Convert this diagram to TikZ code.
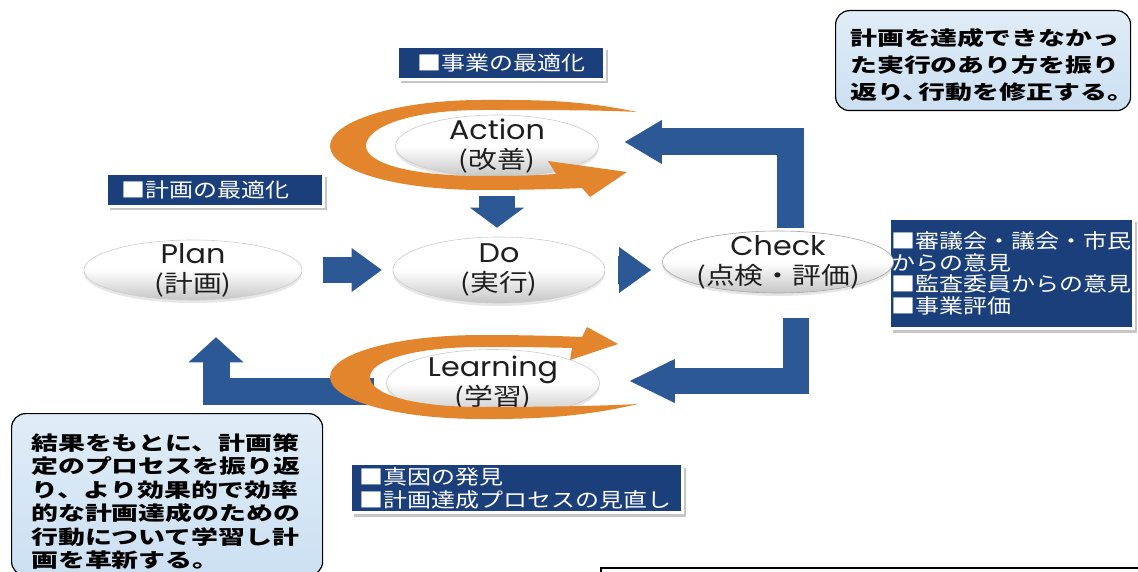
\documentclass[tikz,border=0pt]{standalone}
\usepackage{fontspec}
\setmainfont{Poppins}
\newfontfamily\latinfont[FakeStretch=1.12]{Poppins}
\newfontfamily\jpfont[FakeStretch=1.2]{Noto Sans CJK JP}
\newfontfamily\jpbold[FakeStretch=1.38]{Noto Sans CJK JP}
\newcommand\jpline{\jpfont\fontsize{24}{29}\selectfont}
\usetikzlibrary{shapes.geometric, arrows.meta, shadows}

\definecolor{tagnavy}{RGB}{27,63,122}
\definecolor{flowblue}{RGB}{44,88,150}
\definecolor{swirlorange}{RGB}{227,133,44}
\definecolor{calloutblue}{RGB}{204,224,242}
\definecolor{inkgray}{RGB}{30,30,30}

\begin{document}
\begin{tikzpicture}[x=1pt, y=-1pt,
  phase/.style={ellipse, minimum width=#1, minimum height=62pt,
    inner xsep=0pt, inner ysep=-14pt, draw=gray!40, line width=0.6pt,
    top color=white, bottom color=gray!45, middle color=white,
    drop shadow={opacity=0.2, shadow xshift=0pt, shadow yshift=-3pt},
    text=inkgray, align=center, font=\latinfont\fontsize{27}{29}\selectfont},
  tagbox/.style={fill=tagnavy, draw=white, line width=3pt, text=white,
    minimum height=33pt, align=left, font=\jpfont\fontsize{20}{22}\selectfont,
    drop shadow={shadow xshift=3pt, shadow yshift=-4pt, fill=gray!45, opacity=1}},
  callout/.style={draw=black, line width=1.2pt, rounded corners=14pt,
    top color=calloutblue!60, bottom color=calloutblue},
  calltext/.style={inner sep=0pt, align=left, text=black},
  flow/.style={draw=flowblue, line join=miter}]
  \useasboundingbox (0,0) rectangle (1138,572);

  % tags
  \node[tagbox, anchor=north west, minimum width=207pt] (bizopt) at (396,45) {■事業の最適化};
  \node[tagbox, anchor=north west, text width=187pt, inner xsep=15pt] (planopt) at (105,172) {■計画の最適化};
  \node[tagbox, anchor=north west, text width=240pt, inner xsep=2pt, minimum height=110pt,
    font=\jpfont\fontsize{20}{21.5}\selectfont] (opinion) at (888,217)
    {■審議会・議会・市民\\からの意見\\■監査委員からの意見\\■事業評価};
  \node[tagbox, anchor=north west, text width=314pt, inner xsep=9pt, minimum height=49pt,
    font=\jpfont\fontsize{20}{23}\selectfont] (cause) at (349,462)
    {■真因の発見\\■計画達成プロセスの見直し};

  % callouts
  \node[callout, anchor=north west, minimum width=295pt, minimum height=100pt] (revise) at (835,10) {};
  \node[calltext, anchor=north west, font=\jpbold\bfseries\fontsize{19.5}{27}\selectfont] (revisetext) at (850,28)
    {計画を達成できなかっ\\た実行のあり方を振り\\返り、\hspace{-11pt}行動を修正する。};
  \node[callout, anchor=north west, minimum width=311pt, minimum height=162pt] (learn) at (11,413) {};
  \node[calltext, anchor=north west, font=\jpbold\bfseries\fontsize{19.5}{23.5}\selectfont] (learntext) at (31,433)
    {結果をもとに、計画策\\定のプロセスを振り返\\り、より効果的で効率\\的な計画達成のための\\行動について学習し計\\画を革新する。};

  % phases
  \node[phase=218pt, minimum height=60pt] (plan) at (193,270) {Plan\\{\jpline(計画)}};
  \node[phase=212pt, minimum height=66pt] (do) at (499,270) {Do\\{\jpline(実行)}};
  \node[phase=203pt] (action) at (497,146) {Action\\{\jpline(改善)}};
  \node[phase=190pt, draw=gray!70] (check) at (778,262) {Check\\{\jpline(点検・評価)}};
  \node[phase=213pt, minimum height=67pt] (learning) at (493,383) {Learning\\{\jpline(学習)}};

  % flow arrows
  \draw[flow, line width=25pt, -{Triangle[length=30pt, width=44pt, line width=0pt]}]
    ([xshift=21pt]plan.east) -- ([xshift=-11pt]do.west);
  \draw[flow, line width=27pt, -{Triangle[length=32pt, width=46pt, line width=0pt]}]
    ([xshift=13pt]do.east) -- ([xshift=-11pt]check.west |- do.east);
  \draw[flow, line width=36pt, -{Triangle[length=20pt, width=54pt, line width=0pt]}]
    ([yshift=-19pt]action.south) -- ([yshift=9pt]action.south |- do.north);
  \draw[flow, line width=27pt, -{Triangle[length=37pt, width=44pt, line width=0pt]}]
    ([xshift=12pt,yshift=3pt]check.north) |- ([xshift=26pt,yshift=4pt]action.east);
  \draw[flow, line width=26pt, -{Triangle[length=45pt, width=44pt, line width=0pt]}]
    ([xshift=18pt,yshift=-25pt]check.south) |- ([xshift=30pt,yshift=2pt]learning.east);
  \draw[flow, line width=27pt, -{Triangle[length=25pt, width=55pt, line width=0pt]}]
    ([xshift=-12pt,yshift=-8pt]learning.west) -| ([xshift=23pt,yshift=-37pt]plan.south);

  % swirls
  \fill[swirlorange] (637,112) .. controls (575,99) and (530,100) .. (482,100)
    .. controls (395,100) and (330,122) .. (330,146)
    .. controls (330,171) and (398,190) .. (482,190)
    .. controls (525,190) and (560,189) .. (582,188)
    -- (590,197) -- (627,172) -- (548,161) -- (556,174)
    .. controls (530,176) and (505,176) .. (482,176)
    .. controls (410,176) and (366,163) .. (366,146)
    .. controls (366,127) and (410,110) .. (482,110)
    .. controls (545,110) and (600,110) .. cycle;
  \fill[swirlorange] (638,404) .. controls (578,418) and (530,419) .. (482,419)
    .. controls (395,419) and (330,400) .. (330,377)
    .. controls (330,353) and (398,335) .. (482,335)
    .. controls (525,335) and (560,336) .. (582,337)
    -- (587,327) -- (618,344) -- (570,360) -- (572,348)
    .. controls (535,347) and (505,347) .. (482,347)
    .. controls (412,347) and (370,361) .. (370,377)
    .. controls (370,394) and (412,407) .. (482,407)
    .. controls (545,407) and (600,406) .. cycle;

  % frame at the bottom
  \draw[line width=2pt] (601,573) |- (1139,568);
\end{tikzpicture}
\end{document}
